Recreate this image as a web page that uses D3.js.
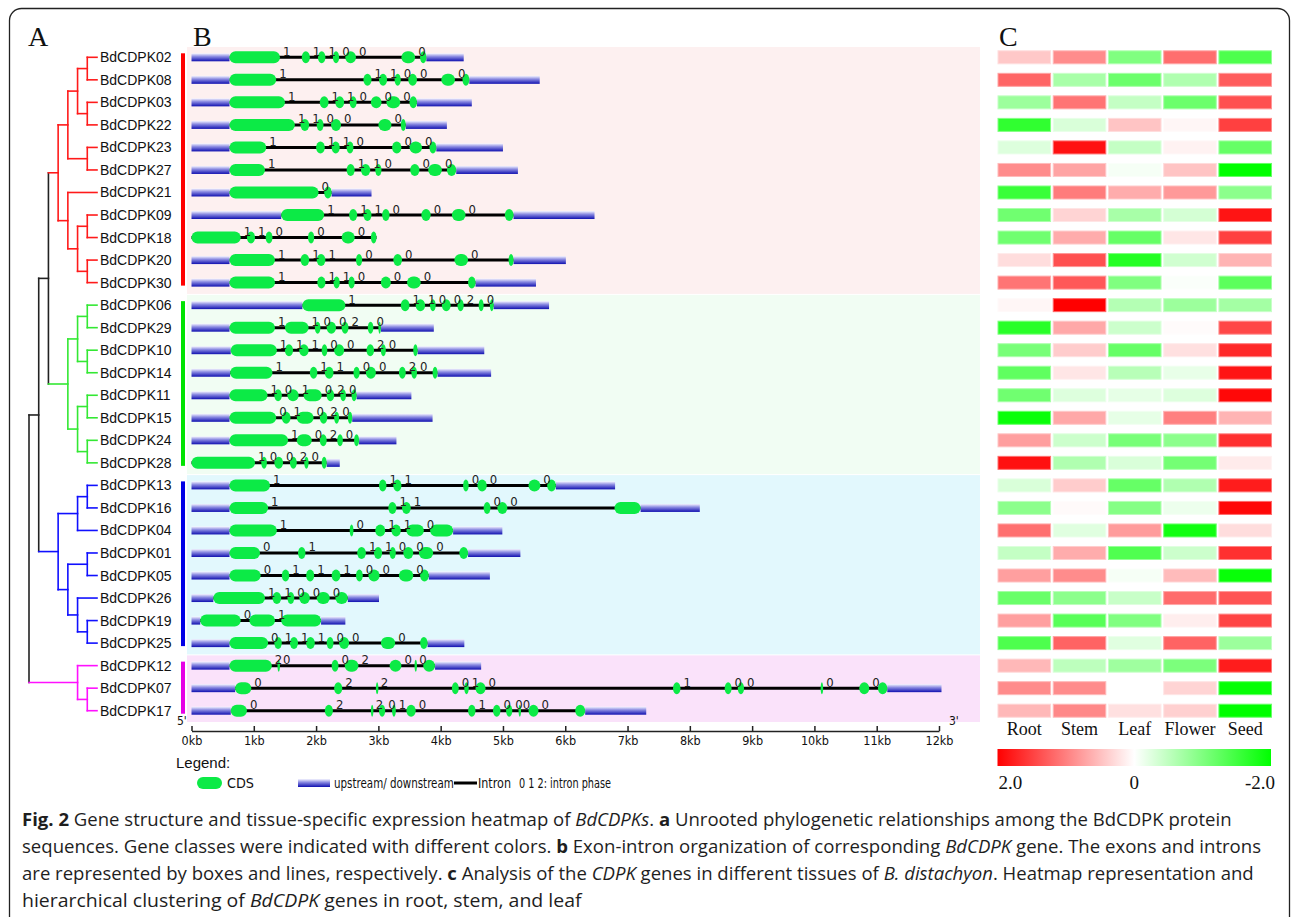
<!DOCTYPE html>
<html><head><meta charset="utf-8">
<script src="https://cdn.jsdelivr.net/npm/d3@7"></script>
<style>body{margin:0;background:#fff}svg{display:block}text{white-space:pre}</style>
</head><body><svg id="c" width="1292" height="917"></svg>
<script>
// ---------------- DATA ----------------
const genes = ["BdCDPK02","BdCDPK08","BdCDPK03","BdCDPK22","BdCDPK23","BdCDPK27","BdCDPK21","BdCDPK09","BdCDPK18","BdCDPK20","BdCDPK30",
  "BdCDPK06","BdCDPK29","BdCDPK10","BdCDPK14","BdCDPK11","BdCDPK15","BdCDPK24","BdCDPK28",
  "BdCDPK13","BdCDPK16","BdCDPK04","BdCDPK01","BdCDPK05","BdCDPK26","BdCDPK19","BdCDPK25",
  "BdCDPK12","BdCDPK07","BdCDPK17"];
const geneClass = ["I","I","I","I","I","I","I","I","I","I","I",
  "II","II","II","II","II","II","II","II",
  "III","III","III","III","III","III","III","III",
  "IV","IV","IV"];
const classes = ["I","II","III","IV"];
const treeColors = ["#ff1a1a","#33e833","#1010ff","#ff10ff"];
const barColors = ["#ff0000","#00e400","#0000e6","#e600e6"];
const bandColors = ["#fdf0f0","#f1fdf3","#e2f8fd","#fae2fa"];
// cladogram (nested pairs)
const tree = [
  [
    [
      [ [ [["BdCDPK02","BdCDPK08"],["BdCDPK03","BdCDPK22"]], ["BdCDPK23","BdCDPK27"] ],
        [ "BdCDPK21", [["BdCDPK09","BdCDPK18"],["BdCDPK20","BdCDPK30"]] ] ],
      [ [["BdCDPK06","BdCDPK29"],["BdCDPK10","BdCDPK14"]], [["BdCDPK11","BdCDPK15"],["BdCDPK24","BdCDPK28"]] ]
    ],
    [ [["BdCDPK13","BdCDPK16"],"BdCDPK04"], [["BdCDPK01","BdCDPK05"],["BdCDPK26",["BdCDPK19","BdCDPK25"]]] ]
  ],
  [ "BdCDPK12", ["BdCDPK07","BdCDPK17"] ]
];
// gene lengths (kb)
const geneLength = [4.37,5.59,4.50,4.10,5.00,5.24,2.89,6.47,2.97,6.01,5.53,
  5.74,3.89,4.70,4.81,3.53,3.87,3.29,2.38,
  6.80,8.16,4.99,5.28,4.79,3.01,2.47,4.38,
  4.65,12.04,7.30];
// exons [start,end] in kb
const exons = [
  [[0.61,1.42],[1.77,1.90],[2.03,2.15],[2.27,2.37],[2.47,2.64],[3.37,3.59],[3.67,3.77]],
  [[0.61,1.36],[2.76,2.89],[3.01,3.14],[3.26,3.36],[3.48,3.62],[4.01,4.23],[4.35,4.46]],
  [[0.61,1.50],[2.06,2.20],[2.31,2.45],[2.54,2.65],[2.88,3.05],[3.13,3.35],[3.50,3.62]],
  [[0.61,1.66],[1.75,1.89],[2.01,2.12],[2.24,2.40],[3.00,3.21],[3.36,3.44]],
  [[0.61,1.20],[2.00,2.14],[2.25,2.38],[2.49,2.60],[3.22,3.37],[3.50,3.70],[3.82,3.93]],
  [[0.61,1.18],[2.49,2.62],[2.72,2.87],[2.95,3.05],[3.51,3.66],[3.80,4.02],[4.10,4.25]],
  [[0.61,2.04],[2.13,2.25]],
  [[1.44,2.13],[2.53,2.66],[2.76,2.89],[3.06,3.18],[3.69,3.84],[4.18,4.40],[5.03,5.17]],
  [[0,0.79],[0.89,1.02],[1.19,1.30],[1.87,1.97],[2.41,2.62],[2.88,2.97]],
  [[0.61,1.34],[1.75,1.89],[2.01,2.15],[2.64,2.74],[3.24,3.38],[4.22,4.44],[5.09,5.17]],
  [[0.61,1.34],[2.02,2.15],[2.28,2.38],[2.52,2.62],[3.04,3.20],[3.46,3.68],[4.44,4.56]],
  [[1.78,2.47],[3.36,3.50],[3.60,3.75],[3.83,3.92],[4.02,4.16],[4.27,4.37],[4.61,4.69],[4.79,4.85]],
  [[0.61,1.34],[1.50,1.88],[1.98,2.07],[2.17,2.32],[2.41,2.52],[2.83,2.92],[3.00,3.04]],
  [[0.63,1.37],[1.50,1.63],[1.73,1.88],[2.09,2.18],[2.29,2.45],[2.81,2.93],[3.04,3.12],[3.56,3.63]],
  [[0.62,1.30],[1.90,2.02],[2.14,2.28],[2.60,2.70],[2.80,2.96],[3.33,3.44],[3.53,3.62],[3.87,3.95]],
  [[0.61,1.22],[1.33,1.45],[1.54,1.72],[1.80,2.09],[2.17,2.29],[2.39,2.48],[2.57,2.65]],
  [[0.61,1.36],[1.45,1.59],[1.69,1.96],[2.06,2.18],[2.29,2.37],[2.51,2.58]],
  [[0.61,1.55],[1.69,1.93],[2.06,2.17],[2.34,2.43],[2.61,2.69]],
  [[0,1.02],[1.12,1.21],[1.33,1.47],[1.58,1.69],[1.81,1.88],[2.09,2.17]],
  [[0.61,1.26],[3.01,3.13],[3.24,3.37],[4.36,4.45],[4.59,4.74],[5.41,5.60],[5.71,5.85]],
  [[0.61,1.23],[3.16,3.29],[3.38,3.52],[4.69,4.80],[4.91,5.07],[6.79,7.21]],
  [[0.61,1.37],[2.54,2.60],[2.95,3.11],[3.21,3.36],[3.45,3.73],[3.83,4.20]],
  [[0.61,1.10],[1.71,1.83],[2.66,2.80],[2.93,3.06],[3.18,3.28],[3.40,3.56],[3.65,3.88],[4.30,4.44]],
  [[0.61,1.11],[1.45,1.57],[1.84,1.97],[2.25,2.39],[2.64,2.75],[2.84,3.02],[3.33,3.56],[3.67,3.81]],
  [[0.35,1.18],[1.30,1.44],[1.54,1.65],[1.73,1.90],[2.01,2.22],[2.31,2.51]],
  [[0.14,0.79],[0.93,1.34],[1.44,2.08]],
  [[0.61,1.23],[1.33,1.45],[1.58,1.71],[1.84,1.98],[2.17,2.28],[2.37,2.53],[3.04,3.27],[3.67,3.79]],
  [[0.61,1.29],[1.38,1.42],[2.25,2.36],[2.46,2.68],[3.18,3.37],[3.58,3.61],[3.72,3.91]],
  [[0.70,0.96],[2.29,2.42],[2.96,2.99],[4.18,4.29],[4.38,4.45],[4.56,4.72],[7.73,7.85],[8.56,8.67],[8.77,8.87],[10.10,10.14],[10.72,10.88],[11.02,11.17]],
  [[0.63,0.89],[2.14,2.27],[2.88,2.91],[3.01,3.11],[3.22,3.28],[3.45,3.60],[4.44,4.56],[4.84,4.96],[5.05,5.15],[5.25,5.27],[5.41,5.57],[6.16,6.32]]
];
// intron phases
const phases = [
  [1,1,1,0,0,0],[1,1,1,0,0,0],[1,1,1,0,0,0],[1,1,0,0,0],[1,1,1,0,0,0],[1,1,1,0,0,0],[0],[1,1,1,0,0,0],[1,1,0,0,0],[1,1,1,0,0,0],[1,1,1,0,0,0],
  [1,1,1,0,0,2,0],[1,1,0,0,2,0],[1,1,1,0,0,2,0],[1,1,1,0,0,2,0],[1,0,1,0,2,0],[0,1,0,2,0],[1,0,2,0],[1,0,0,2,0],
  [1,1,1,0,0,0],[1,1,1,0,0],[1,0,1,1,0],[0,1,1,1,0,0,0],[0,1,1,1,0,0,0],[1,1,0,0,0],[0,1],[0,1,1,1,0,0,0],
  [2,0,0,2,0,0],[0,2,2,0,1,0,1,0,0,0,0],[0,2,2,0,1,0,1,0,0,0,0]
];
const axisTicks = [0,1,2,3,4,5,6,7,8,9,10,11,12];
const axisLabels = ["0kb","1kb","2kb","3kb","4kb","5kb","6kb","7kb","8kb","9kb","10kb","11kb","12kb"];
const tissues = ["Root","Stem","Leaf","Flower","Seed"];
const expression = [
  [0.43,0.90,-1.00,1.14,-1.40],[1.20,-0.68,-1.15,-0.62,1.28],[-0.78,1.09,-0.46,-1.15,1.37],[-1.62,-0.30,0.46,0.07,1.50],
  [-0.27,1.87,-0.46,0.10,-1.20],[0.90,0.71,-0.07,0.46,-2.00],[-1.56,1.03,0.65,0.80,-0.90],[-1.12,0.34,-0.68,-0.34,1.84],
  [-1.12,0.65,-1.20,0.20,1.50],[0.27,1.37,-1.72,-0.37,0.59],[1.09,1.31,-1.00,-0.04,-1.28],
  [0.07,2.00,-0.59,-0.78,-0.71],[-1.69,0.68,-0.40,0.03,1.44],[-1.06,0.40,-1.20,0.24,1.69],[-1.25,0.20,-0.56,-0.18,1.84],
  [-1.12,-0.27,-0.20,-0.27,1.94],[-1.94,0.68,-0.20,1.00,0.59],[0.75,-0.40,-1.06,-0.90,1.62],[1.87,-0.62,-0.30,-1.09,0.16],
  [-0.30,0.40,-1.20,-0.62,1.78],[-0.90,0.04,-0.96,-0.14,1.94],[1.12,-0.24,0.78,-1.87,0.27],[-0.46,0.65,-1.37,-0.40,1.62],
  [0.75,0.90,-0.07,0.53,-1.94],[-1.18,-0.90,-0.43,1.15,1.34],[0.75,-1.31,-1.00,0.13,1.47],[-1.40,1.22,-0.24,1.22,-0.78],
  [0.56,-0.52,-0.75,-1.03,1.78],[0.90,0.90,0.00,0.34,-1.97],[0.56,0.93,0.24,0.37,-2.00]
];
const colorBarTicks = [2,0,-2];
const colorBarLabels = ["2.0","0","-2.0"];
const captionLines = [
  [["Fig. 2","b"],[" Gene structure and tissue-specific expression heatmap of ",""],["BdCDPKs","i"],[". ",""],["a","b"],[" Unrooted phylogenetic relationships among the BdCDPK protein",""]],
  [["sequences. Gene classes were indicated with different colors. ",""],["b","b"],[" Exon-intron organization of corresponding ",""],["BdCDPK","i"],[" gene. The exons and introns",""]],
  [["are represented by boxes and lines, respectively. ",""],["c","b"],[" Analysis of the ",""],["CDPK","i"],[" genes in different tissues of ",""],["B. distachyon","i"],[". Heatmap representation and",""]],
  [["hierarchical clustering of ",""],["BdCDPK","i"],[" genes in root, stem, and leaf",""]]
];

// ---------------- DRAW ----------------
const svg = d3.select("#c");
const defs = svg.append("defs");
const ug = defs.append("linearGradient").attr("id","utr").attr("x1",0).attr("y1",0).attr("x2",0).attr("y2",1);
[["0%","#f4f4ff"],["40%","#8c8ce2"],["100%","#1010b0"]].forEach(([o,c])=>ug.append("stop").attr("offset",o).attr("stop-color",c));

const heatColor = d3.scaleLinear().domain([-2,0,2]).range(["#00ff00","#ffffff","#ff0000"]).clamp(true);
const cbg = defs.append("linearGradient").attr("id","cbar").attr("x1",0).attr("y1",0).attr("x2",1).attr("y2",0);
d3.range(0,1.0001,0.1).forEach(t=>cbg.append("stop").attr("offset",t).attr("stop-color",heatColor(2-4*t)));

// frame
svg.append("rect").attr("x",9.5).attr("y",8.5).attr("width",1280).attr("height",1000).attr("rx",12)
  .attr("fill","none").attr("stroke","#222").attr("stroke-width",1.3);

const yRow = d3.scalePoint().domain(genes).range([57.3,710.7]);
const step = yRow.step();

// panel letters
const serif = "'Liberation Serif','Times New Roman',serif";
[["A",28],["B",193],["C",999]].forEach(([t,x])=>svg.append("text").attr("x",x).attr("y",46).text(t)
  .attr("font-family",serif).attr("font-size",28).attr("fill","#111"));

// background bands and class bars
classes.forEach((c,ci)=>{
  const idx = genes.map((g,i)=>i).filter(i=>geneClass[i]===c);
  const y0 = yRow(genes[idx[0]]), y1 = yRow(genes[idx[idx.length-1]]);
  svg.append("rect").attr("x",187).attr("y",y0-step/2+1).attr("width",793).attr("height",y1-y0+step-1)
    .attr("fill",bandColors[ci]);
  svg.append("rect").attr("x",181).attr("y",y0-4).attr("width",4).attr("height",y1-y0+7).attr("fill",barColors[ci]);
});

// tree
const root = d3.hierarchy(tree, d => Array.isArray(d) ? d : null);
const xTree = d3.scaleLinear().domain([root.height,0]).range([29,97]);
root.eachAfter(n=>{
  if(!n.children){ n.py = yRow(n.data); n.cls = geneClass[genes.indexOf(n.data)]; }
  else {
    n.py = d3.mean(n.children, c=>c.py);
    const s = new Set(n.children.map(c=>c.cls));
    n.cls = (s.size===1 && !s.has(null)) ? n.children[0].cls : null;
  }
  n.px = xTree(n.height);
});
const treeG = svg.append("g").attr("fill","none").attr("stroke-width",1.6).attr("stroke-linecap","square");
const col = c => c ? treeColors[classes.indexOf(c)] : "#222";
root.descendants().forEach(n=>{
  if(n.parent) treeG.append("path").attr("d",`M${n.parent.px},${n.py}H${n.px}`).attr("stroke",col(n.cls));
  if(n.children){
    const ys = n.children.map(c=>c.py);
    treeG.append("path").attr("d",`M${n.px},${d3.min(ys)}V${d3.max(ys)}`).attr("stroke",col(n.cls));
  }
});
svg.append("g").selectAll("text").data(genes).join("text")
  .attr("x",100).attr("y",d=>yRow(d)+5).text(d=>d)
  .attr("font-family","'Liberation Sans',Arial,sans-serif").attr("font-size",14).attr("fill","#111");

// gene structures
const xKb = d3.scaleLinear().domain([0,12]).range([191.5,939]);
const narrow = "'Liberation Sans Narrow','Arial Narrow','DejaVu Sans Condensed','Liberation Sans',sans-serif";
const exonGreen = "#0cea46";
const gs = svg.append("g");
genes.forEach((gname,i)=>{
  const y = yRow(gname), ex = exons[i], L = geneLength[i];
  const first = ex[0][0], last = ex[ex.length-1][1];
  gs.append("line").attr("x1",xKb(first)).attr("x2",xKb(last)).attr("y1",y).attr("y2",y)
    .attr("stroke","#000").attr("stroke-width",3);
  if(first>0) gs.append("rect").attr("x",xKb(0)).attr("y",y-4).attr("width",xKb(first)-xKb(0)).attr("height",8).attr("fill","url(#utr)");
  if(L>last) gs.append("rect").attr("x",xKb(last)).attr("y",y-4).attr("width",xKb(L)-xKb(last)).attr("height",8).attr("fill","url(#utr)");
  ex.forEach(([s,e])=>{
    const w = Math.max(xKb(e)-xKb(s),2.5);
    gs.append("rect").attr("x",xKb(s)).attr("y",y-6).attr("width",w).attr("height",12)
      .attr("rx",Math.min(w/2,6)).attr("ry",6).attr("fill",exonGreen);
  });
  phases[i].forEach((p,k)=>{
    gs.append("text").attr("x",xKb(ex[k][1])+3).attr("y",y-1.5).text(p)
      .attr("font-family",narrow).attr("font-size",13).attr("fill","#222");
  });
});

// axis
const axis = d3.axisBottom(xKb).tickValues(axisTicks).tickFormat((d,i)=>axisLabels[i])
  .tickSizeInner(-5).tickSizeOuter(0).tickPadding(5);
const ax = svg.append("g").attr("transform","translate(0,731)").call(axis);
ax.select(".domain").attr("stroke","#222").attr("stroke-width",1.5);
ax.selectAll(".tick line").attr("stroke","#222").attr("stroke-width",1.5);
ax.selectAll(".tick text").attr("font-family",narrow).attr("font-size",12.5).attr("fill","#111");
svg.append("text").attr("x",177).attr("y",725).text("5'").attr("font-family",narrow).attr("font-size",12).attr("fill","#111");
svg.append("text").attr("x",949).attr("y",725).text("3'").attr("font-family",narrow).attr("font-size",12).attr("fill","#111");

// legend
function fit(sel, w){ const m = sel.node().getComputedTextLength(); const x=+sel.attr("x"), y=+sel.attr("y");
  sel.attr("x",0).attr("y",0).attr("transform",`translate(${x},${y}) scale(${w/m},1)`); }
svg.append("text").attr("x",176).attr("y",768).text("Legend:").attr("font-family","'Liberation Sans',Arial,sans-serif")
  .attr("font-size",15).attr("fill","#111");
const ly = 783;
svg.append("rect").attr("x",197).attr("y",ly-6).attr("width",25).attr("height",12).attr("rx",6).attr("fill",exonGreen);
fit(svg.append("text").attr("x",227).attr("y",ly+5).text("CDS").attr("font-family",narrow).attr("font-size",14).attr("fill","#111"),27);
svg.append("rect").attr("x",298).attr("y",ly-4).attr("width",32).attr("height",8).attr("fill","url(#utr)");
fit(svg.append("text").attr("x",334).attr("y",ly+5).text("upstream/ downstream").attr("font-family",narrow).attr("font-size",14).attr("fill","#111"),120);
svg.append("line").attr("x1",454).attr("x2",477).attr("y1",ly).attr("y2",ly).attr("stroke","#000").attr("stroke-width",3);
fit(svg.append("text").attr("x",478).attr("y",ly+5).text("Intron").attr("font-family",narrow).attr("font-size",14).attr("fill","#111"),33);
fit(svg.append("text").attr("x",519).attr("y",ly+5).text("0 1 2: intron phase").attr("font-family",narrow).attr("font-size",14).attr("fill","#111"),92);

// heatmap
const xT = d3.scaleBand().domain(tissues).range([997.5,1272]).paddingInner(0.03);
const hm = svg.append("g");
expression.forEach((row,i)=>{
  const y = yRow(genes[i]);
  row.forEach((v,j)=>{
    const c = heatColor(v);
    hm.append("rect").attr("x",xT(tissues[j])+0.5).attr("y",y-6.5).attr("width",xT.bandwidth()-1).attr("height",13)
      .attr("fill",c).attr("stroke",d3.interpolateRgb(c,"#fff")(0.4)).attr("stroke-width",1);
  });
});
svg.append("g").selectAll("text").data(tissues).join("text")
  .attr("x",d=>xT(d)+xT.bandwidth()/2).attr("y",735).attr("text-anchor","middle").text(d=>d)
  .attr("font-family",serif).attr("font-size",18).attr("fill","#111");
// color bar
const xCb = d3.scaleLinear().domain([2,-2]).range([997.5,1271]);
svg.append("rect").attr("x",xCb(2)).attr("y",749).attr("width",xCb(-2)-xCb(2)).attr("height",17).attr("fill","url(#cbar)");
svg.append("g").selectAll("text").data(colorBarTicks).join("text")
  .attr("x",(d,i)=> i===0 ? xCb(d)+1 : i===2 ? xCb(d)+4 : xCb(d))
  .attr("text-anchor",(d,i)=>["start","middle","end"][i])
  .attr("y",789).text((d,i)=>colorBarLabels[i])
  .attr("font-family",serif).attr("font-size",19).attr("fill","#111");

// caption
const capY = [826,853,880,907], capW = [1210,1240,1232,560];
captionLines.forEach((segs,i)=>{
  const t = svg.append("text").attr("font-family","'Open Sans','Noto Sans',sans-serif").attr("font-size",18.5).attr("fill","#1e1e1e");
  segs.forEach(([s,st])=>t.append("tspan").text(s).attr("font-weight",st==="b"?"bold":null).attr("font-style",st==="i"?"italic":null));
  const m = t.node().getComputedTextLength();
  t.attr("transform",`translate(22,${capY[i]}) scale(${capW[i]/m},1)`);
});
</script></body></html>
